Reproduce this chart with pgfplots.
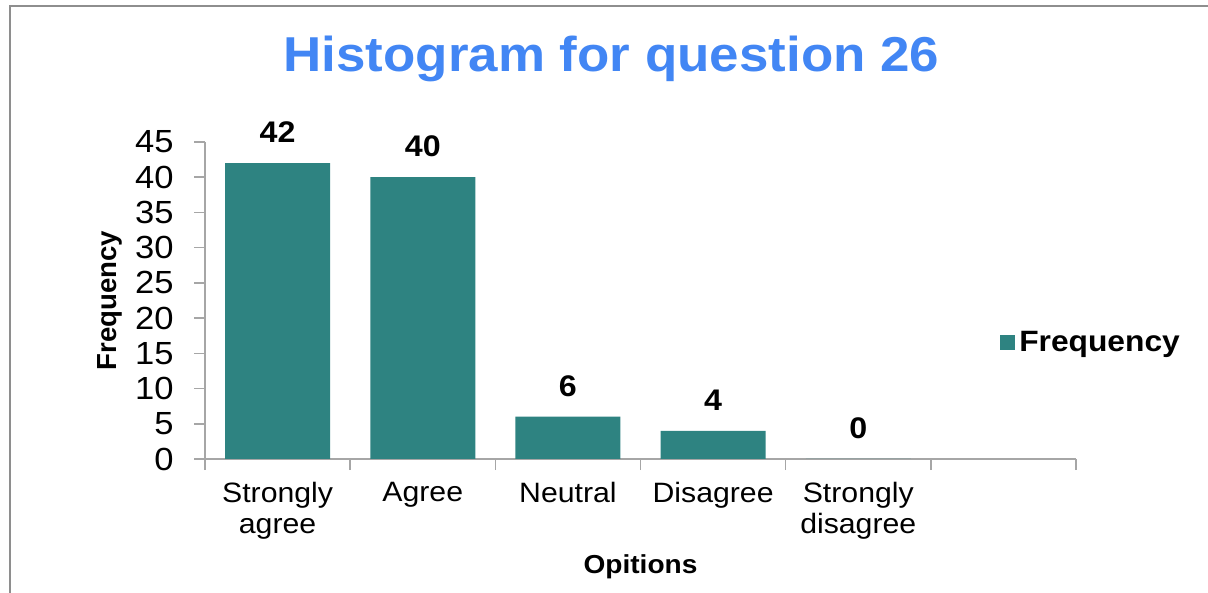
\documentclass[border=0pt]{standalone}
\usepackage{pgfplots}
\pgfplotsset{compat=1.18}
\usepackage{fontspec}
\setmainfont[FakeStretch=1.08]{Liberation Sans}
\newfontfamily\plainsans{Liberation Sans}
\definecolor{barteal}{RGB}{46,131,129}
\definecolor{titleblue}{RGB}{66,134,244}
\definecolor{axisgray}{RGB}{166,166,166}
\definecolor{framegray}{RGB}{142,142,142}
\begin{document}
\begin{tikzpicture}[x=1pt,y=1pt]
\useasboundingbox (0,0) rectangle (604,296.5);
\draw[framegray, line width=0.7pt] (5,0) -- (5,293.5) -- (604,293.5);
\node[font=\fontsize{24.5}{28}\selectfont\bfseries, text=titleblue, anchor=base, inner sep=0pt] at (305.75,260.5) {Histogram for question 26};
\begin{axis}[
  at={(102.5pt,67pt)}, anchor=south west,
  scale only axis, width=435.5pt, height=158.5pt,
  xmin=-0.5, xmax=5.5, ymin=0, ymax=45,
  axis x line*=bottom, axis y line*=left,
  axis line style={draw=axisgray, line width=0.75pt},
  every tick/.style={draw=axisgray, line width=0.75pt},
  tick align=outside,
  major tick length=5.5pt,
  xtick={-0.5,0.5,1.5,2.5,3.5,4.5,5.5},
  x tick label as interval,
  xticklabels={{Strongly\\agree},Agree,Neutral,Disagree,{Strongly\\disagree},{}},
  xticklabel style={align=center, font=\fontsize{14}{15.5}\selectfont, inner sep=0pt, yshift=-6pt},
  ytick={0,5,...,45},
  yticklabel style={font=\fontsize{16}{18}\selectfont, inner sep=0pt, xshift=-10pt},
  /pgf/number format/assume math mode=true,
  ybar, bar width=52.5pt,
  nodes near coords,
  every node near coord/.append style={font=\fontsize{14.9}{16}\selectfont\bfseries, anchor=south, inner sep=0pt, yshift=10pt, text=black},
  xlabel={Opitions},
  xlabel style={at={(axis description cs:0.5,-0.341)}, anchor=center, font=\fontsize{13}{15}\selectfont\bfseries},
  ylabel={Frequency},
  ylabel style={at={(axis description cs:-0.109,0.5)}, anchor=center, font=\plainsans\fontsize{13.8}{15}\selectfont\bfseries},
  legend style={at={(axis description cs:0.9126,0.366)}, anchor=west, draw=none, fill=none, inner sep=0pt,
    font=\fontsize{14.7}{16}\selectfont\bfseries},
  legend image code/.code={\fill[barteal] (-2pt,-3.75pt) rectangle (5.5pt,3.75pt);},
  clip=false,
]
\addplot[fill=barteal, draw=none] coordinates {(0,42) (1,40) (2,6) (3,4) (4,0)};
\addlegendentry{Frequency}
\end{axis}
\end{tikzpicture}
\end{document}
